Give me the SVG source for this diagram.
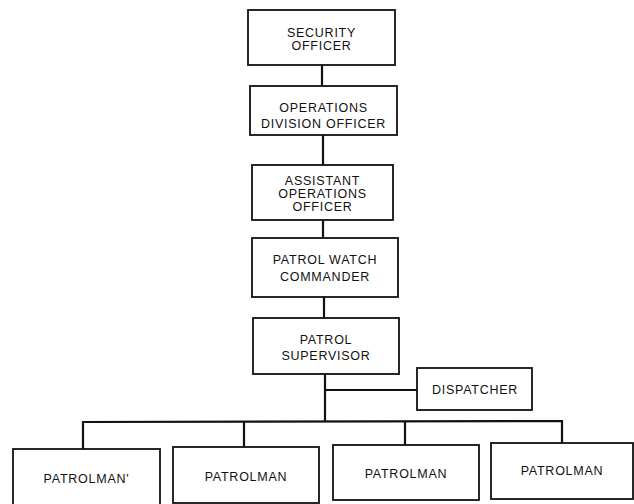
<svg xmlns="http://www.w3.org/2000/svg" width="634" height="504" viewBox="0 0 634 504">
<style>
.box{fill:#fff;stroke:#111;stroke-width:1.8}
.t{font-family:"Liberation Sans",Arial,sans-serif;font-size:12.5px;fill:#111;text-anchor:middle;letter-spacing:0.75px}
.c{fill:none;stroke:#111;stroke-width:2.2}
</style>
<rect width="634" height="504" fill="#fff"/>
<g id="connectors">
<line class="c" x1="322" y1="65" x2="322" y2="86"/>
<line class="c" x1="323" y1="135" x2="323" y2="165"/>
<line class="c" x1="323" y1="220" x2="323" y2="238"/>
<line class="c" x1="324" y1="297" x2="324" y2="318"/>
<line class="c" x1="325" y1="374" x2="325" y2="421"/>
<line class="c" x1="325" y1="390" x2="417" y2="390"/>
<polyline class="c" points="83,449 83,422 562,421 562,443"/>
<line class="c" x1="244" y1="422" x2="244" y2="447"/>
<line class="c" x1="405" y1="421" x2="405" y2="445"/>
</g>
<g id="security-officer">
<rect class="box" x="248" y="10" width="147" height="55"/>
<text class="t" x="321.5" y="36.5">SECURITY</text>
<text class="t" x="321.5" y="50">OFFICER</text>
</g>
<g id="operations-division-officer">
<rect class="box" x="250" y="86" width="147" height="49"/>
<text class="t" x="323.5" y="111.5">OPERATIONS</text>
<text class="t" x="323.5" y="127.5">DIVISION OFFICER</text>
</g>
<g id="assistant-operations-officer">
<rect class="box" x="252" y="165" width="141" height="55"/>
<text class="t" x="322.5" y="184.5">ASSISTANT</text>
<text class="t" x="322.5" y="197.5">OPERATIONS</text>
<text class="t" x="322.5" y="210.5">OFFICER</text>
</g>
<g id="patrol-watch-commander">
<rect class="box" x="252" y="238" width="146" height="59"/>
<text class="t" x="325" y="263.5">PATROL WATCH</text>
<text class="t" x="325" y="280.5">COMMANDER</text>
</g>
<g id="patrol-supervisor">
<rect class="box" x="253" y="318" width="146" height="56"/>
<text class="t" x="326" y="343.5">PATROL</text>
<text class="t" x="326" y="359.5">SUPERVISOR</text>
</g>
<g id="dispatcher">
<rect class="box" x="417" y="368" width="115" height="42"/>
<text class="t" x="475" y="393.5">DISPATCHER</text>
</g>
<g id="patrolman-1">
<rect class="box" x="13" y="449" width="147" height="58"/>
<text class="t" x="86.5" y="482.5">PATROLMAN'</text>
</g>
<g id="patrolman-2">
<rect class="box" x="173" y="447" width="146" height="56"/>
<text class="t" x="246" y="480.5">PATROLMAN</text>
</g>
<g id="patrolman-3">
<rect class="box" x="333" y="445" width="146" height="55"/>
<text class="t" x="406" y="477.5">PATROLMAN</text>
</g>
<g id="patrolman-4">
<rect class="box" x="491" y="443" width="142" height="56"/>
<text class="t" x="562" y="474.5">PATROLMAN</text>
</g>
</svg>
